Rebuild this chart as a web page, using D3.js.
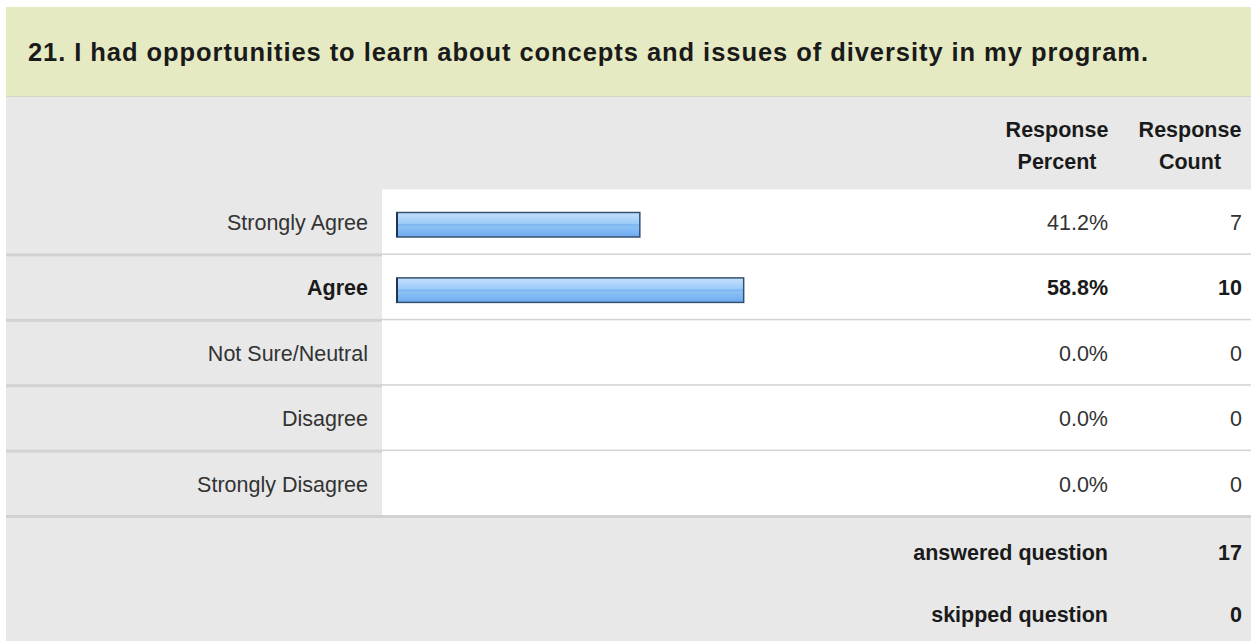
<!DOCTYPE html>
<html>
<head>
<meta charset="utf-8">
<script src="https://cdn.jsdelivr.net/npm/d3@7"></script>
<style>
	body { margin: 0; background: #fff; }
	text { font-family: Arial, "Liberation Sans", sans-serif; }
</style>
</head>
<body>
<script>
var width = 1251,
	height = 641;

var title = '21. I had opportunities to learn about concepts and issues of diversity in my program.';

var categories = ['Strongly Agree', 'Agree', 'Not Sure/Neutral', 'Disagree', 'Strongly Disagree'];
var percents = [41.2, 58.8, 0.0, 0.0, 0.0];
var counts = [7, 10, 0, 0, 0];
var headers = [['Response', 'Percent'], ['Response', 'Count']];
var footerLabels = ['answered question', 'skipped question'];
var footerValues = [17, 0];

var rows = categories.map(function(c, i) {
	return { label: c, pct: percents[i], count: counts[i] };
});
var maxCount = d3.max(counts);

var left = 6,
	labelRight = 382,
	pctX = 1108,
	countX = 1242;

var svg = d3.select('body')
	.append('svg')
	.attr('width', width)
	.attr('height', height);

var defs = svg.append('defs');
var grad = defs.append('linearGradient')
	.attr('id', 'barGrad')
	.attr('x1', 0).attr('y1', 0).attr('x2', 0).attr('y2', 1);
[['0%', '#c4e0fd'], ['45%', '#9ccbf8'], ['50%', '#7ab4f1'], ['58%', '#8cc1f5'], ['100%', '#6eaaf0']]
	.forEach(function(s) {
		grad.append('stop').attr('offset', s[0]).attr('stop-color', s[1]);
	});

// title band
svg.append('rect')
	.attr('x', left).attr('y', 7)
	.attr('width', width - left).attr('height', 89)
	.attr('fill', '#e6eac3');
svg.append('text')
	.attr('x', 28).attr('y', 60.5)
	.attr('font-size', 25.5)
	.attr('font-weight', 'bold')
	.attr('fill', '#1a1a1a')
	.attr('textLength', 1120)
	.attr('lengthAdjust', 'spacing')
	.text(title);

// gray body
svg.append('rect')
	.attr('x', left).attr('y', 96)
	.attr('width', width - left).attr('height', height - 96)
	.attr('fill', '#e8e8e8');
svg.append('line')
	.attr('x1', left).attr('x2', width)
	.attr('y1', 96.5).attr('y2', 96.5)
	.attr('stroke', '#d4d6c4');

// headers
var hx = [1057, 1190];
headers.forEach(function(h, i) {
	svg.append('text')
		.attr('text-anchor', 'middle')
		.attr('font-size', 21.5)
		.attr('font-weight', 'bold')
		.attr('fill', '#1a1a1a')
		.selectAll('tspan')
		.data(h)
		.enter()
		.append('tspan')
		.attr('x', hx[i])
		.attr('y', function(d, j) { return 137 + j * 31.5; })
		.text(function(d) { return d; });
});

var y = d3.scaleBand()
	.domain(categories)
	.range([189.5, 516.5]);

var x = d3.scaleLinear()
	.domain([0, 100])
	.range([396, 986]);

var row = svg.selectAll('g.row')
	.data(rows)
	.enter()
	.append('g')
	.attr('class', 'row')
	.attr('transform', function(d) { return 'translate(0,' + y(d.label) + ')'; });

row.append('rect')
	.attr('x', labelRight).attr('y', 0)
	.attr('width', width - labelRight)
	.attr('height', y.bandwidth())
	.attr('fill', '#fff');

row.append('rect')
	.attr('x', left).attr('y', y.bandwidth() - 1.5)
	.attr('width', width - left).attr('height', 3)
	.attr('fill', '#d2d2d2');

row.filter(function(d) { return d.pct > 0; })
	.append('rect')
	.attr('x', x(0) + 0.75)
	.attr('y', 23)
	.attr('width', function(d) { return x(d.pct) - x(0); })
	.attr('height', 24.5)
	.attr('fill', 'url(#barGrad)')
	.attr('stroke', '#34506f')
	.attr('stroke-width', 1.5);

row.filter(function(d) { return d.pct > 0; })
	.append('line')
	.attr('x1', x(0) + 1).attr('x2', x(0) + 1)
	.attr('y1', 23).attr('y2', 47.5)
	.attr('stroke', '#1f3550')
	.attr('stroke-width', 2);

function styleText(sel) {
	sel.attr('font-size', 21.5)
		.attr('y', 40.5)
		.attr('text-anchor', 'end')
		.attr('font-weight', function(d) { return d.count === maxCount ? 'bold' : 'normal'; })
		.attr('fill', function(d) { return d.count === maxCount ? '#1a1a1a' : '#333'; });
}

row.append('text')
	.attr('x', 368)
	.call(styleText)
	.text(function(d) { return d.label; });

row.append('text')
	.attr('x', pctX)
	.call(styleText)
	.text(function(d) { return d.pct.toFixed(1) + '%'; });

row.append('text')
	.attr('x', countX)
	.call(styleText)
	.text(function(d) { return d.count; });

// footer
footerLabels.forEach(function(f, i) {
	var fy = 560 + i * 62;
	svg.append('text')
		.attr('x', pctX).attr('y', fy)
		.attr('text-anchor', 'end')
		.attr('font-size', 21.5)
		.attr('font-weight', 'bold')
		.attr('fill', '#1a1a1a')
		.text(f);
	svg.append('text')
		.attr('x', countX).attr('y', fy)
		.attr('text-anchor', 'end')
		.attr('font-size', 21.5)
		.attr('font-weight', 'bold')
		.attr('fill', '#1a1a1a')
		.text(footerValues[i]);
});
</script>
</body>
</html>
